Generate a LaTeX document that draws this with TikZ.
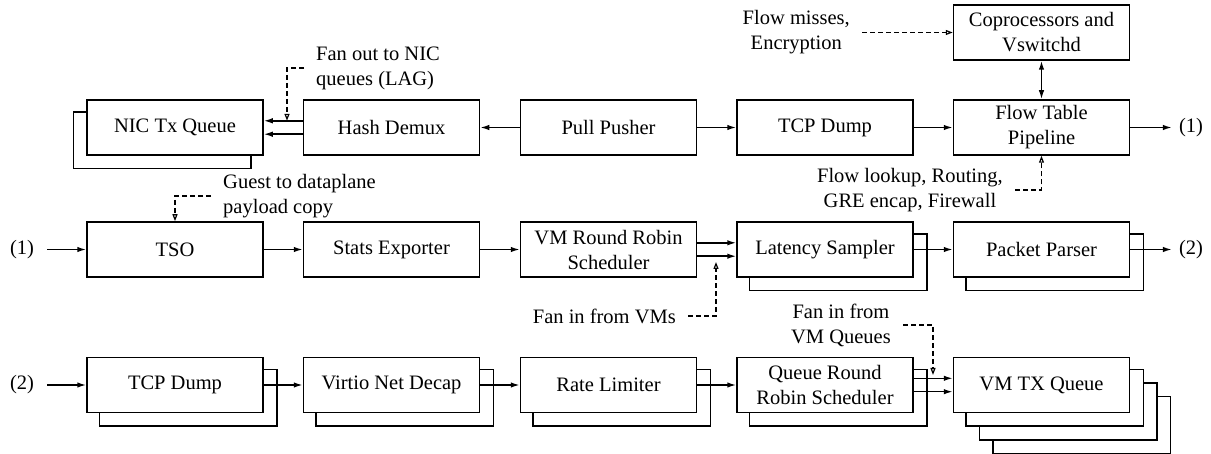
\documentclass[tikz,border=0pt]{standalone}
\usepackage{fontspec}
\setmainfont{Liberation Serif}
\usetikzlibrary{arrows.meta,backgrounds}
\begin{document}
\begin{tikzpicture}[x=1pt,y=-1pt,
  font=\fontsize{20.5}{25}\selectfont,
  box/.style={draw,line width=1.5pt,fill=white,minimum width=176pt,minimum height=55pt,align=center,inner sep=2pt},
  backbox/.style={draw,line width=1.5pt,fill=white},
  lbl/.style={inner xsep=12pt,inner ysep=0pt},
  par/.style={inner sep=0pt},
  arr/.style={line width=1.5pt,-{Latex[length=9pt,width=5.5pt]}},
  darr/.style={line width=1.5pt,{Latex[length=9pt,width=5.5pt]}-{Latex[length=9pt,width=5.5pt]}},
  dasharr/.style={line width=1.2pt,dash pattern=on 5pt off 3pt,-{Triangle[open,length=7pt,width=5pt]}}]
\useasboundingbox (0,0) rectangle (1211,454);

% Row 1
\node[box] (nic)  at (175,127.5)   {NIC Tx Queue};
\node[box] (hash) at (391.5,127.5) {Hash Demux};
\node[box] (pull) at (608.5,127.5) {Pull Pusher};
\node[box] (tcp1) at (825,127.5)   {TCP Dump};
\node[box] (flow) at (1041.5,127.5){Flow Table\\Pipeline};
\node[box] (cop)  at (1041.5,32.5) {Coprocessors and\\Vswitchd};
\node[par] (p1r)  at (1191,127.5)  {(1)};

% Row 2
\node[par] (p1l)  at (22,249.5)    {(1)};
\node[box] (tso)  at (175,249.5)   {TSO};
\node[box] (stats) at (391.5,249.5){Stats Exporter};
\node[box] (vmrr) at (608.5,249.5) {VM Round Robin\\Scheduler};
\node[box] (lat)  at (825,249.5)   {Latency Sampler};
\node[box] (pp)   at (1041.5,249.5){Packet Parser};
\node[par] (p2r)  at (1191,249.5)  {(2)};

% Row 3
\node[par] (p2l)  at (22,385)      {(2)};
\node[box] (tcp2) at (175,385)     {TCP Dump};
\node[box] (virt) at (391.5,385)   {Virtio Net Decap};
\node[box] (rate) at (608.5,385)   {Rate Limiter};
\node[box] (qrr)  at (825,385)     {Queue Round\\Robin Scheduler};
\node[box] (vmtx) at (1041.5,385)  {VM TX Queue};

% stacked copies
\begin{pgfonlayer}{background}
  \draw[backbox] ([shift={(-13,13)}]nic.south west) rectangle ([shift={(-13,13)}]nic.north east);
  \draw[backbox] ([shift={(13,13)}]lat.south west) rectangle ([shift={(13,13)}]lat.north east);
  \draw[backbox] ([shift={(13,13)}]pp.south west) rectangle ([shift={(13,13)}]pp.north east);
  \draw[backbox] ([shift={(13,13)}]tcp2.south west) rectangle ([shift={(13,13)}]tcp2.north east);
  \draw[backbox] ([shift={(13,13)}]virt.south west) rectangle ([shift={(13,13)}]virt.north east);
  \draw[backbox] ([shift={(13,13)}]rate.south west) rectangle ([shift={(13,13)}]rate.north east);
  \draw[backbox] ([shift={(13,13)}]qrr.south west) rectangle ([shift={(13,13)}]qrr.north east);
  \draw[backbox] ([shift={(40,40)}]vmtx.south west) rectangle ([shift={(40,40)}]vmtx.north east);
  \draw[backbox] ([shift={(26.5,26.5)}]vmtx.south west) rectangle ([shift={(26.5,26.5)}]vmtx.north east);
  \draw[backbox] ([shift={(13,13)}]vmtx.south west) rectangle ([shift={(13,13)}]vmtx.north east);
\end{pgfonlayer}

% Labels
\node[lbl,align=left,anchor=west] (fanout) at (304,68) {Fan out to NIC\\queues (LAG)};
\node[lbl,align=center,anchor=east] (miss) at (862,32.5) {Flow misses,\\Encryption};
\node[lbl,align=center,anchor=east] (lookup) at (1015,190) {Flow lookup, Routing,\\GRE encap, Firewall};
\node[lbl,align=left,anchor=west] (guest) at (211,196) {Guest to dataplane\\payload copy};
\node[lbl,anchor=east] (fanvm) at (688,316) {Fan in from VMs};
\node[lbl,align=center,anchor=east] (fanq) at (903,325) {Fan in from\\VM Queues};

\coordinate (fo) at (287,120.8);
\coordinate (fv) at (716,262);
\coordinate (fq) at (933,375);

% Row 1 connectors
\draw[arr] ([yshift=6.7pt]hash.west) -- ([yshift=6.7pt]nic.east);
\draw[arr] ([yshift=-6.7pt]hash.west) -- ([yshift=-6.7pt]nic.east);
\draw[arr] (pull) -- (hash);
\draw[arr] (pull) -- (tcp1);
\draw[arr] (tcp1) -- (flow);
\draw[arr,shorten >=7pt] (flow) -- (p1r);
\draw[darr] (cop) -- (flow);

% Row 2 connectors
\draw[arr,shorten <=13pt] (p1l) -- (tso);
\draw[arr] (tso) -- (stats);
\draw[arr] (stats) -- (vmrr);
\draw[arr] ([yshift=6.7pt]vmrr.east) -- ([yshift=6.7pt]lat.west);
\draw[arr] ([yshift=-6.7pt]vmrr.east) -- ([yshift=-6.7pt]lat.west);
\draw[arr] (lat) -- (pp);
\draw[arr,shorten >=7pt] (pp) -- (p2r);

% Row 3 connectors
\draw[arr,shorten <=13pt] (p2l) -- (tcp2);
\draw[arr] (tcp2) -- (virt);
\draw[arr] (virt) -- (rate);
\draw[arr] (rate) -- (qrr);
\draw[arr] ([yshift=6.7pt]qrr.east) -- ([yshift=6.7pt]vmtx.west);
\draw[arr] ([yshift=-6.7pt]qrr.east) -- ([yshift=-6.7pt]vmtx.west);

% Dashed connectors
\draw[dasharr] (fanout.west) -| (fo);
\draw[dasharr] (miss.east) -- (cop.west);
\draw[dasharr] (lookup.east) -| (flow.south);
\draw[dasharr] (guest.west) -| (tso.north);
\draw[dasharr] (fanvm.east) -| (fv);
\draw[dasharr] (fanq.east) -| (fq);
\end{tikzpicture}
\end{document}
